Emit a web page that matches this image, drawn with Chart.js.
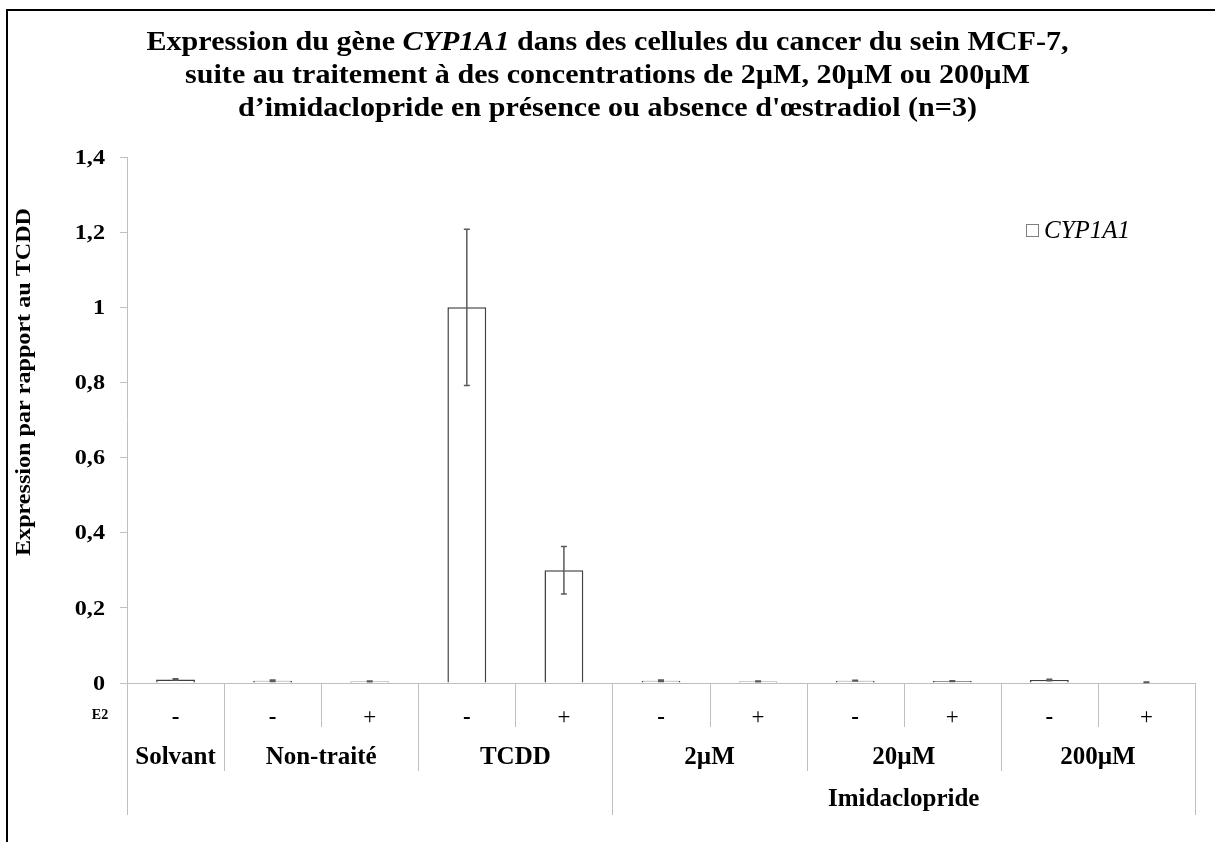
<!DOCTYPE html>
<html>
<head>
<meta charset="utf-8">
<script src="https://cdn.jsdelivr.net/npm/chart.js@4"></script>
<style>
  html, body { margin: 0; padding: 0; background: #fff; }
  #wrap { width: 1215px; height: 842px; }
</style>
</head>
<body>
<div id="wrap"><canvas id="graph"></canvas></div>
<script>
// data
const e2Labels = ['-', '-', '+', '-', '+', '-', '+', '-', '+', '-', '+'];
const valeurs = [0.009, 0.006, 0.004, 1.0, 0.30, 0.006, 0.004, 0.006, 0.005, 0.008, 0.002];
const erreurs = [0.002, 0.002, 0.001, 0.208, 0.063, 0.002, 0.001, 0.001, 0.001, 0.002, 0.0005];
const groupes = ['Solvant', 'Non-traité', 'TCDD', '2µM', '20µM', '200µM'];
const tailleGroupes = [1, 2, 2, 2, 2, 2];
const superGroupes = ['', 'Imidaclopride'];
const tailleSuperGroupes = [5, 6];
const yTicks = [0, 0.2, 0.4, 0.6, 0.8, 1, 1.2, 1.4];

const SERIF = '"Liberation Serif", "Times New Roman", serif';
const GRIS = '#bfbfbf';

// texte étiré horizontalement (l'image d'origine est étirée)
function texteEtire(ctx, txt, x, y, sx) {
    ctx.save();
    ctx.translate(x, y);
    ctx.scale(sx, 1);
    ctx.fillText(txt, 0, 0);
    ctx.restore();
}

/* -------------------- PLUGIN -------------------- */
const decor = {
    id: 'decor',
    afterDatasetsDraw(chart) {
        // barres d'erreur
        const ctx = chart.ctx;
        const x = chart.scales.x, y = chart.scales.y;
        ctx.save();
        ctx.strokeStyle = '#5a5a5a';
        ctx.lineWidth = 1.5;
        valeurs.forEach((v, i) => {
            const px = x.getPixelForValue(i);
            const top = y.getPixelForValue(v + erreurs[i]);
            const bot = y.getPixelForValue(Math.max(v - erreurs[i], 0));
            ctx.beginPath();
            ctx.moveTo(px, top); ctx.lineTo(px, bot);
            ctx.moveTo(px - 3, top); ctx.lineTo(px + 3, top);
            ctx.moveTo(px - 3, bot); ctx.lineTo(px + 3, bot);
            ctx.stroke();
        });
        ctx.restore();
    },
    afterDraw(chart) {
        const ctx = chart.ctx;
        const area = chart.chartArea;
        const x = chart.scales.x, y = chart.scales.y;
        ctx.save();

        // cadre
        ctx.strokeStyle = '#000';
        ctx.lineWidth = 2;
        ctx.beginPath();
        ctx.moveTo(7, 900); ctx.lineTo(7, 10); ctx.lineTo(1300, 10);
        ctx.stroke();

        // titre
        ctx.fillStyle = '#000';
        ctx.textBaseline = 'alphabetic';
        const fTitre = 'bold 28px ' + SERIF;
        const l1 = [
            [fTitre, 'Expression du gène '],
            ['italic bold 28px ' + SERIF, 'CYP1A1'],
            [fTitre, ' dans des cellules du cancer du sein MCF-7,']
        ];
        let total = 0;
        l1.forEach(s => { ctx.font = s[0]; total += ctx.measureText(s[1]).width; });
        const sxT = 922 / total;
        let cx = 607.5 - total * sxT / 2;
        ctx.textAlign = 'left';
        l1.forEach(s => {
            ctx.font = s[0];
            texteEtire(ctx, s[1], cx, 50, sxT);
            cx += ctx.measureText(s[1]).width * sxT;
        });
        ctx.font = fTitre;
        ctx.textAlign = 'center';
        texteEtire(ctx, 'suite au traitement à des concentrations de 2µM, 20µM ou 200µM', 607.5, 83, sxT);
        texteEtire(ctx, 'd’imidaclopride en présence ou absence d\'œstradiol (n=3)', 607.5, 116, sxT);

        // titre de l'axe y
        ctx.font = 'bold 22px ' + SERIF;
        ctx.textBaseline = 'middle';
        const ty = 'Expression par rapport au TCDD';
        const sxY = 348 / ctx.measureText(ty).width;
        ctx.save();
        ctx.translate(24, 382);
        ctx.rotate(-Math.PI / 2);
        ctx.scale(sxY, 1);
        ctx.fillText(ty, 0, 0);
        ctx.restore();

        // graduations y
        ctx.font = 'bold 22px ' + SERIF;
        ctx.textAlign = 'right';
        y.ticks.forEach(t => {
            const lab = String(t.value).replace('.', ',');
            texteEtire(ctx, lab, 105, y.getPixelForValue(t.value) + 1, 1.1);
        });
        ctx.textAlign = 'center';

        // séparateurs de l'axe x
        const n = valeurs.length;
        const bord = i => i === 0 ? area.left : i === n ? area.right
            : (x.getPixelForValue(i - 1) + x.getPixelForValue(i)) / 2;
        const finGroupe = new Set([0]);
        let acc = 0;
        tailleGroupes.forEach(t => { acc += t; finGroupe.add(acc); });
        const finSuper = new Set([0]);
        acc = 0;
        tailleSuperGroupes.forEach(t => { acc += t; finSuper.add(acc); });

        ctx.strokeStyle = GRIS;
        ctx.lineWidth = 1;
        for (let i = 0; i <= n; i++) {
            const px = Math.round(bord(i)) + 0.5;
            const fin = finSuper.has(i) ? area.bottom + 132 : finGroupe.has(i) ? area.bottom + 88 : area.bottom + 44;
            ctx.beginPath();
            ctx.moveTo(px, area.bottom); ctx.lineTo(px, fin);
            ctx.stroke();
        }

        // étiquettes des groupes
        ctx.fillStyle = '#000';
        ctx.font = 'bold 25px ' + SERIF;
        acc = 0;
        groupes.forEach((g, k) => {
            const c = (bord(acc) + bord(acc + tailleGroupes[k])) / 2;
            ctx.fillText(g, c, area.bottom + 75);
            acc += tailleGroupes[k];
        });
        acc = 0;
        superGroupes.forEach((g, k) => {
            const c = (bord(acc) + bord(acc + tailleSuperGroupes[k])) / 2;
            ctx.fillText(g, c, area.bottom + 117);
            acc += tailleSuperGroupes[k];
        });

        // E2
        ctx.font = 'bold 14px ' + SERIF;
        ctx.fillText('E2', 100, area.bottom + 32);

        // légende
        const ds = chart.data.datasets[0];
        ctx.strokeStyle = '#7f7f7f';
        ctx.fillStyle = '#fff';
        ctx.fillRect(1026.5, 224.5, 12, 12);
        ctx.strokeRect(1026.5, 224.5, 12, 12);
        ctx.fillStyle = '#000';
        ctx.textAlign = 'left';
        ctx.font = 'italic 25px ' + SERIF;
        ctx.fillText(ds.label, 1044, 231);

        ctx.restore();
    }
};

/* -------------------- GRAPHIQUE -------------------- */
new Chart(document.getElementById('graph'), {
    type: 'bar',
    data: {
        labels: e2Labels,
        datasets: [{
            label: 'CYP1A1',
            data: valeurs,
            backgroundColor: '#ffffff',
            borderColor: '#404040',
            borderWidth: 1.5,
            barPercentage: 0.4,
            categoryPercentage: 1
        }]
    },
    options: {
        responsive: true,
        maintainAspectRatio: false,
        animation: false,
        layout: { padding: { top: 157, left: 8, right: 20, bottom: 0 } },
        plugins: {
            legend: { display: false },
            title: { display: false },
            tooltip: { enabled: false }
        },
        scales: {
            x: {
                grid: { display: false },
                border: { color: GRIS },
                ticks: {
                    color: '#000',
                    padding: 13,
                    maxRotation: 0,
                    font: c => ({ family: SERIF, size: 23, weight: c.tick && c.tick.label === '-' ? 'bold' : 'normal' })
                },
                afterFit: s => { s.height = 159; }
            },
            y: {
                min: 0,
                max: 1.4,
                afterBuildTicks: s => { s.ticks = yTicks.map(v => ({ value: v })); },
                grid: { drawOnChartArea: false, drawTicks: true, tickLength: 7, color: GRIS },
                border: { color: GRIS },
                ticks: { display: false },
                afterFit: s => { s.width = 119; }
            }
        }
    },
    plugins: [decor]
});
</script>
</body>
</html>
